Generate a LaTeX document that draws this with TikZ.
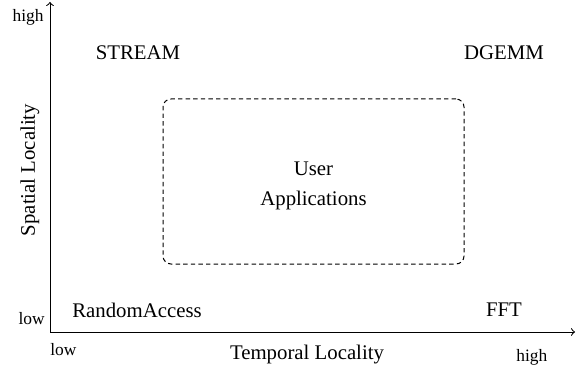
\documentclass[tikz,border=0pt]{standalone}
\usepackage{fontspec}
\setmainfont{Liberation Serif}

\tikzset{
    bench/.style={font=\fontsize{10.4}{12.5}\selectfont},
    tick/.style={font=\fontsize{8.7}{10}\selectfont, inner sep=0pt},
    axis/.style={->, line width=0.5pt},
}

\begin{document}
\begin{tikzpicture}[x=0.5pt,y=-0.5pt]
            \useasboundingbox (0,0) rectangle (576,368);
            \coordinate (origin) at (50,332);
            \coordinate (ytip) at (50,2);
            \coordinate (xtip) at (575,332);
            \draw[axis] (origin) -- (ytip);
            \draw[axis] (origin) -- (xtip);
            % axis ends
            \node[tick, anchor=east] (yhigh) at (44,17) {high};
            \node[tick, anchor=east] (ylow) at (45,319) {low};
            \node[tick, anchor=west] (xlow) at (50,350) {low};
            \node[tick, anchor=west] (xhigh) at (516,357) {high};
            \node[bench] (xlabel) at (307,355) {Temporal Locality};
            \node[bench, rotate=90] (ylabel) at (30,170) {Spatial Locality};
            % benchmarks
            \node[bench] (stream) at (138,53) {STREAM};
            \node[bench] (dgemm) at (504,53) {DGEMM};
            \node[bench] (random) at (137,310) {RandomAccess};
            \node[bench] (fft) at (504,310) {FFT};
            \node[draw, line width=0.5pt, dash pattern=on 2.2pt off 1.6pt,
                  rounded corners=4pt, minimum width=150.5pt, minimum height=82.5pt]
                  (apps) at (313.5,181.5) {};
            \node[bench, align=center] (appsname) at ([yshift=-2pt]apps.center) {User\\[2.5pt]Applications};
        \end{tikzpicture}
\end{document}
